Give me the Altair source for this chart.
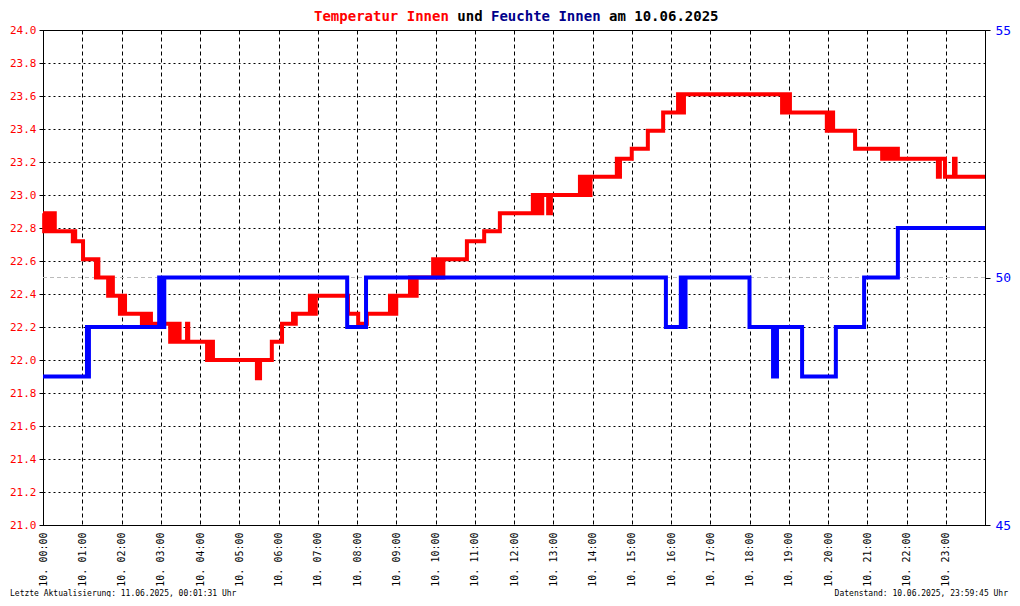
import altair as alt
import pandas as pd

# ---- data ----
temp_hours = [0.00, 0.03, 0.06, 0.10, 0.13, 0.17, 0.20, 0.24, 0.27, 0.30,
              0.76, 0.79, 0.82, 1.02, 1.35, 1.38, 1.41,
              1.66, 1.69, 1.72, 1.75, 1.78, 1.96, 1.99, 2.09,
              2.52, 2.55, 2.59, 2.63, 2.67, 2.71, 2.75,
              3.24, 3.27, 3.31, 3.35, 3.39, 3.43, 3.48, 3.67, 3.70,
              4.18, 4.21, 4.25, 4.29, 4.33, 5.45, 5.53, 5.83, 6.09,
              6.37, 6.40, 6.44, 6.80, 6.83, 6.87, 6.91, 6.95,
              7.77, 8.03, 8.25, 8.84, 8.87, 8.91, 8.95, 9.00,
              9.35, 9.38, 9.42, 9.46, 9.52,
              9.94, 9.97, 10.01, 10.05, 10.10, 10.15, 10.20,
              10.80, 11.24, 11.64,
              12.48, 12.52, 12.56, 12.60, 12.64, 12.68, 12.72, 12.87, 12.94,
              13.68, 13.72, 13.76, 13.80, 13.84, 13.90, 13.95,
              14.62, 14.66, 14.70, 15.00, 15.41, 15.80,
              16.18, 16.21, 16.25, 16.28, 16.33,
              18.83, 18.90, 18.98, 19.00, 19.03,
              19.97, 20.00, 20.04, 20.08, 20.13, 20.69,
              21.38, 21.42, 21.46, 21.50, 21.55, 21.60, 21.66, 21.72, 21.78,
              22.80, 22.85, 22.98, 23.21, 23.25, 24.00]
temp_values = [22.89, 22.78, 22.89, 22.78, 22.89, 22.78, 22.89, 22.78, 22.89, 22.78,
               22.72, 22.78, 22.72, 22.61, 22.50, 22.61, 22.50,
               22.39, 22.50, 22.39, 22.50, 22.39, 22.28, 22.39, 22.28,
               22.22, 22.28, 22.22, 22.28, 22.22, 22.28, 22.22,
               22.11, 22.22, 22.11, 22.22, 22.11, 22.22, 22.11, 22.22, 22.11,
               22.00, 22.11, 22.00, 22.11, 22.00, 21.89, 22.00, 22.11, 22.22,
               22.28, 22.22, 22.28, 22.39, 22.28, 22.39, 22.28, 22.39,
               22.28, 22.22, 22.28, 22.39, 22.28, 22.39, 22.28, 22.39,
               22.50, 22.39, 22.50, 22.39, 22.50,
               22.61, 22.50, 22.61, 22.50, 22.61, 22.50, 22.61,
               22.72, 22.78, 22.89,
               23.00, 22.89, 23.00, 22.89, 23.00, 22.89, 23.00, 22.89, 23.00,
               23.11, 23.00, 23.11, 23.00, 23.11, 23.00, 23.11,
               23.22, 23.11, 23.22, 23.28, 23.39, 23.50,
               23.61, 23.50, 23.61, 23.50, 23.61,
               23.50, 23.61, 23.50, 23.61, 23.50,
               23.39, 23.50, 23.39, 23.50, 23.39, 23.28,
               23.22, 23.28, 23.22, 23.28, 23.22, 23.28, 23.22, 23.28, 23.22,
               23.11, 23.22, 23.11, 23.22, 23.11, 23.11]

hum_hours = [0.00, 1.12, 1.14, 1.17, 2.96, 2.99, 3.03, 3.06, 3.09, 7.75, 8.23,
             15.87, 16.25, 16.33, 16.37, 18.00, 18.60, 18.70, 19.34, 20.20,
             20.92, 21.78, 24.00]
hum_values = [48, 49, 48, 49, 50, 49, 50, 49, 50, 49, 50,
              49, 50, 49, 50, 49, 48, 49, 48, 49,
              50, 51, 51]

hour_ticks = list(range(0, 24))
temp_ticks = [21.0, 21.2, 21.4, 21.6, 21.8, 22.0, 22.2, 22.4, 22.6, 22.8,
              23.0, 23.2, 23.4, 23.6, 23.8, 24.0]
hum_ticks = [45, 50, 55]
hum_ref = [50]

title_parts = ["Temperatur Innen", " und ", "Feuchte Innen", " am 10.06.2025"]
title_colors = ["#FF0000", "#000000", "#00008B", "#000000"]
footer_left = "Letzte Aktualisierung: 11.06.2025, 00:01:31 Uhr"
footer_right = "Datenstand: 10.06.2025, 23:59:45 Uhr"

# ---- chart ----
FONT = "DejaVu Sans Mono"
W, H = 942, 495

temp_df = pd.DataFrame({"h": temp_hours, "t": temp_values})
hum_df = pd.DataFrame({"h": hum_hours, "f": hum_values})
ref_df = pd.DataFrame({"f": hum_ref})

x_enc = alt.X("h:Q",
              scale=alt.Scale(domain=[0, 24], nice=False, zero=False),
              axis=alt.Axis(values=hour_ticks, title=None, labelAngle=270,
                            labelExpr="'10. ' + (datum.value < 10 ? '0' : '') + datum.value + ':00'",
                            labelFont=FONT, labelFontSize=10, labelColor="black",
                            ticks=False, tickSize=0, labelPadding=7,
                            labelFlush=False, labelOverlap=False,
                            grid=True, gridColor="black", gridDash=[4, 3],
                            gridOpacity=1, gridWidth=1,
                            domain=True, domainColor="black"))

hum_scale = alt.Scale(domain=[45, 55], nice=False, zero=False)

ref = alt.Chart(ref_df).mark_rule(color="#BBBBBB", strokeDash=[4, 3], strokeWidth=1).encode(
    y=alt.Y("f:Q", scale=hum_scale, axis=None)
)

red = alt.Chart(temp_df).mark_line(interpolate="step-after", color="#FF0000", strokeWidth=4).encode(
    x=x_enc,
    y=alt.Y("t:Q", scale=alt.Scale(domain=[21, 24], nice=False, zero=False),
            axis=alt.Axis(orient="left", values=temp_ticks, format=".1f", title=None,
                          labelFont=FONT, labelFontSize=11, labelColor="#FF0000",
                          tickSize=4, tickColor="black", labelPadding=3,
                          labelOverlap=False, labelFlush=False,
                          grid=True, gridColor="black", gridDash=[2, 3],
                          gridOpacity=1, gridWidth=1,
                          domain=True, domainColor="black"))
)

blue = alt.Chart(hum_df).mark_line(interpolate="step-after", color="#0000FF", strokeWidth=4).encode(
    x=x_enc,
    y=alt.Y("f:Q", scale=hum_scale,
            axis=alt.Axis(orient="right", values=hum_ticks, format="d", title=None,
                          labelFont=FONT, labelFontSize=13, labelColor="#0000FF",
                          tickSize=5, tickColor="black", labelPadding=5,
                          labelOverlap=False, labelFlush=False,
                          grid=False, domain=True, domainColor="black"))
)

# title made of coloured pieces (monospace: advance = 0.602 em)
tsize = 14
cw = 0.602 * tsize
start_x = 271
texts = []
offset = 0
for part, col in zip(title_parts, title_colors):
    lead = len(part) - len(part.lstrip(" "))
    texts.append(
        alt.Chart(pd.DataFrame({"s": [part.strip()]})).mark_text(
            font=FONT, fontSize=tsize, fontWeight="bold", color=col,
            align="left", baseline="alphabetic"
        ).encode(text="s:N", x=alt.value(start_x + (offset + lead) * cw), y=alt.value(-9))
    )
    offset += len(part)

foot_l = alt.Chart(pd.DataFrame({"s": [footer_left]})).mark_text(
    font=FONT, fontSize=8, color="black", align="left", baseline="alphabetic"
).encode(text="s:N", x=alt.value(-33), y=alt.value(566))

foot_r = alt.Chart(pd.DataFrame({"s": [footer_right]})).mark_text(
    font=FONT, fontSize=8, color="black", align="right", baseline="alphabetic"
).encode(text="s:N", x=alt.value(965), y=alt.value(566))

chart = alt.layer(ref, red, blue, *texts, foot_l, foot_r).resolve_scale(
    y="independent"
).properties(
    width=W, height=H,
    autosize=alt.AutoSizeParams(type="none"),
    padding={"left": 35, "top": 22, "right": 27, "bottom": 72},
    background="white",
).configure_view(
    stroke="black", strokeWidth=1
)

chart.save("out.html", embed_options={"renderer": "svg", "actions": False})
